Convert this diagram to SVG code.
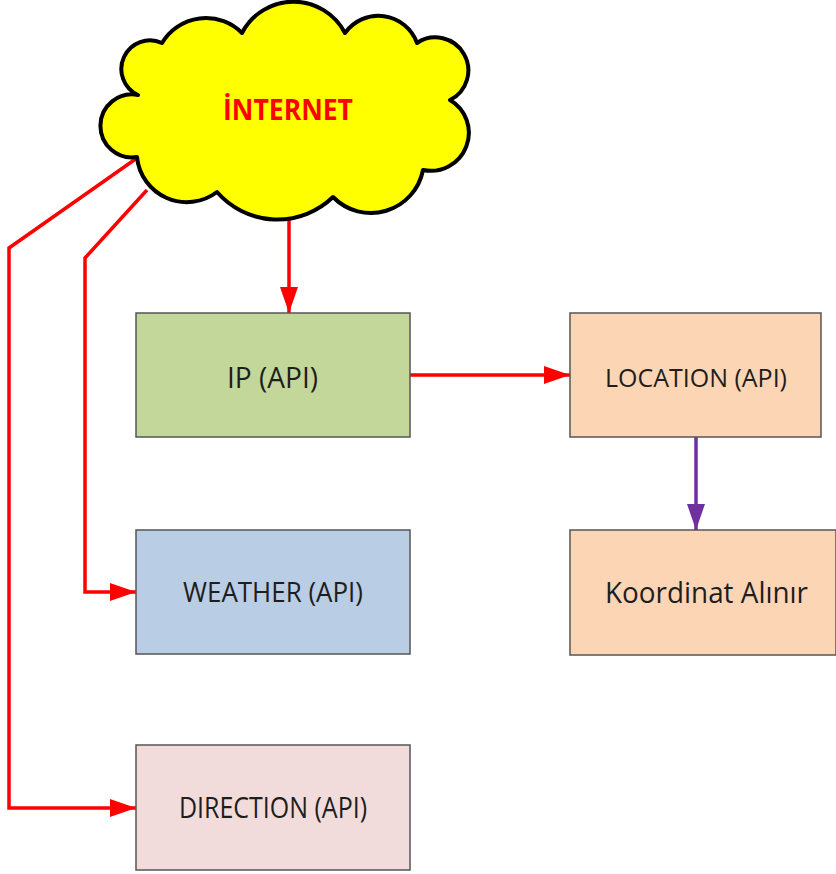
<svg xmlns="http://www.w3.org/2000/svg" width="836" height="874" viewBox="0 0 836 874">
<defs>
<style>
.box{stroke:#555;stroke-width:1.5}
.lbl{font-family:"Open Sans","Liberation Sans",sans-serif;fill:#1e1e1e}
.red{fill:none;stroke:#ff0000;stroke-width:3.5}
.pur{fill:none;stroke:#7030a0;stroke-width:3.5}
</style>
<marker id="ar" markerUnits="userSpaceOnUse" markerWidth="26" markerHeight="18" refX="26" refY="9" orient="auto">
<path d="M0,0 L26,9 L0,18 Z" fill="#ff0000"/>
</marker>
<marker id="ap" markerUnits="userSpaceOnUse" markerWidth="26" markerHeight="18" refX="26" refY="9" orient="auto">
<path d="M0,0 L26,9 L0,18 Z" fill="#7030a0"/>
</marker>
</defs>
<rect width="836" height="874" fill="#ffffff"/>
<g id="connectors">
<path class="red" d="M289,216 L289,313" marker-end="url(#ar)"/>
<path class="red" d="M137,158 L9,248 L9,808 L136,808" marker-end="url(#ar)"/>
<path class="red" d="M147,190 L85,258 L85,592 L136,592" marker-end="url(#ar)"/>
<path class="red" d="M410,375 L570,375" marker-end="url(#ar)"/>
<path class="pur" d="M696,437 L696,530" marker-end="url(#ap)"/>
</g>
<g id="internet">
<path d="M138,95 A28.6,28.6 0 1 1 162,43 A51,51 0 0 1 242,33 A58,58 0 0 1 345,33 A41,41 0 0 1 417,43 A33,33 0 1 1 450,100 A38,38 0 0 1 423,170 A53,53 0 0 1 333,197 A80,80 0 0 1 217,192 A50,50 0 0 1 137,157 A31.5,31.5 0 1 1 138,95 Z" fill="#ffff00" stroke="#000" stroke-width="4" stroke-linejoin="round"/>
<text x="223" y="120" font-family="'Open Sans','Liberation Sans',sans-serif" font-weight="bold" font-size="28" fill="#ff0000" textLength="130" lengthAdjust="spacingAndGlyphs">İNTERNET</text>
</g>
<g id="ip">
<rect class="box" x="136" y="313" width="274" height="124" fill="#c4d79b"/>
<text class="lbl" x="227" y="388" font-size="30" textLength="91" lengthAdjust="spacingAndGlyphs">IP (API)</text>
</g>
<g id="location">
<rect class="box" x="570" y="313" width="251" height="124" fill="#fcd5b5"/>
<text class="lbl" x="605" y="386.5" font-size="25.5" textLength="182" lengthAdjust="spacingAndGlyphs">LOCATION (API)</text>
</g>
<g id="koordinat">
<rect class="box" x="570" y="530" width="266" height="125" fill="#fcd5b5"/>
<text class="lbl" x="605" y="603" font-size="28.5" textLength="203" lengthAdjust="spacingAndGlyphs">Koordinat Alınır</text>
</g>
<g id="weather">
<rect class="box" x="136" y="530" width="274" height="124" fill="#b9cde5"/>
<text class="lbl" x="183" y="602" font-size="28" textLength="180" lengthAdjust="spacingAndGlyphs">WEATHER (API)</text>
</g>
<g id="direction">
<rect class="box" x="136" y="745" width="274" height="125" fill="#f2dcdb"/>
<text class="lbl" x="179" y="818" font-size="28.5" textLength="188" lengthAdjust="spacingAndGlyphs">DIRECTION (API)</text>
</g>
</svg>
